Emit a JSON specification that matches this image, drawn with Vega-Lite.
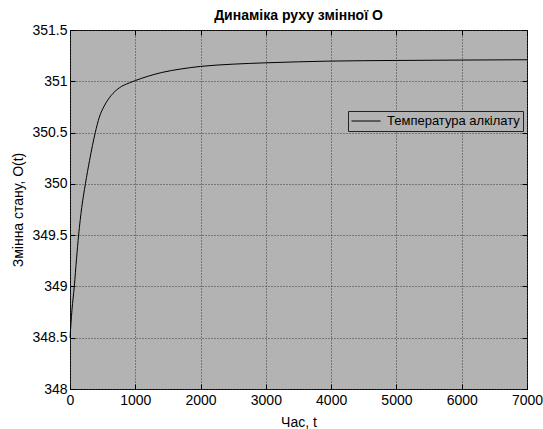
{
  "$schema": "https://vega.github.io/schema/vega-lite/v6.json",
  "width": 457,
  "height": 359,
  "autosize": {"type": "none"},
  "padding": {"left": 70, "top": 30, "right": 16, "bottom": 40},
  "background": "white",
  "config": {
    "font": "Liberation Sans",
    "view": {"fill": "#b3b3b3", "stroke": "black", "strokeWidth": 1}
  },
  "title": {
    "text": "Динаміка руху змінної O",
    "font": "Liberation Sans",
    "fontSize": 14,
    "fontWeight": "bold",
    "fontStyle": "normal",
    "color": "black",
    "anchor": "middle",
    "offset": 0
  },
  "data": {
    "values": [
      {"t": 0, "v": 348.5, "s": "Температура алкілату"},
      {"t": 30, "v": 348.77, "s": "Температура алкілату"},
      {"t": 66, "v": 349.0, "s": "Температура алкілату"},
      {"t": 100, "v": 349.27, "s": "Температура алкілату"},
      {"t": 132, "v": 349.5, "s": "Температура алкілату"},
      {"t": 180, "v": 349.77, "s": "Температура алкілату"},
      {"t": 236, "v": 350.0, "s": "Температура алкілату"},
      {"t": 300, "v": 350.23, "s": "Температура алкілату"},
      {"t": 387, "v": 350.5, "s": "Температура алкілату"},
      {"t": 449, "v": 350.65, "s": "Температура алкілату"},
      {"t": 525, "v": 350.76, "s": "Температура алкілату"},
      {"t": 628, "v": 350.86, "s": "Температура алкілату"},
      {"t": 755, "v": 350.936, "s": "Температура алкілату"},
      {"t": 908, "v": 350.984, "s": "Температура алкілату"},
      {"t": 1000, "v": 351.007, "s": "Температура алкілату"},
      {"t": 1200, "v": 351.05, "s": "Температура алкілату"},
      {"t": 1400, "v": 351.085, "s": "Температура алкілату"},
      {"t": 1700, "v": 351.12, "s": "Температура алкілату"},
      {"t": 2000, "v": 351.145, "s": "Температура алкілату"},
      {"t": 2500, "v": 351.167, "s": "Температура алкілату"},
      {"t": 3000, "v": 351.18, "s": "Температура алкілату"},
      {"t": 3500, "v": 351.19, "s": "Температура алкілату"},
      {"t": 4000, "v": 351.197, "s": "Температура алкілату"},
      {"t": 5000, "v": 351.203, "s": "Температура алкілату"},
      {"t": 6000, "v": 351.207, "s": "Температура алкілату"},
      {"t": 7000, "v": 351.21, "s": "Температура алкілату"}
    ]
  },
  "layer": [
    {
      "mark": {"type": "line", "strokeWidth": 1, "interpolate": "monotone"},
      "encoding": {
        "x": {
          "field": "t", "type": "quantitative",
          "scale": {"domain": [0, 7000], "nice": false, "zero": false},
          "axis": {
            "orient": "bottom",
            "values": [0, 1000, 2000, 3000, 4000, 5000, 6000, 7000],
            "format": "d",
            "title": "Час, t",
            "titleFont": "Liberation Sans", "titleFontSize": 14, "titleFontWeight": "normal", "titleColor": "black",
            "titlePadding": 8,
            "labelFont": "Liberation Sans", "labelFontSize": 14, "labelColor": "black",
            "labelPadding": 9,
            "labelFlush": false,
            "tickSize": -5, "tickColor": "black",
            "domain": false,
            "grid": true, "gridColor": "#3a3a3a", "gridDash": [1, 2], "gridWidth": 1, "gridOpacity": 1
          }
        },
        "y": {
          "field": "v", "type": "quantitative",
          "scale": {"domain": [348, 351.5], "nice": false, "zero": false},
          "axis": {
            "orient": "left",
            "values": [348, 348.5, 349, 349.5, 350, 350.5, 351, 351.5],
            "format": "~g",
            "title": "Змінна стану, O(t)",
            "titleFont": "Liberation Sans", "titleFontSize": 14, "titleFontWeight": "normal", "titleColor": "black",
            "titlePadding": 6,
            "labelFont": "Liberation Sans", "labelFontSize": 14, "labelColor": "black",
            "labelPadding": 8,
            "labelFlush": false,
            "tickSize": -5, "tickColor": "black",
            "domain": false,
            "grid": true, "gridColor": "#3a3a3a", "gridDash": [1, 2], "gridWidth": 1, "gridOpacity": 1
          }
        },
        "color": {
          "field": "s", "type": "nominal",
          "scale": {"range": ["black"]},
          "legend": {
            "title": null,
            "orient": "none",
            "legendX": 278,
            "legendY": 81,
            "symbolType": "stroke",
            "symbolSize": 841,
            "symbolStrokeWidth": 1,
            "clipHeight": 14,
            "labelFont": "Liberation Sans",
            "labelFontSize": 13,
            "labelColor": "black",
            "labelOffset": 6,
            "padding": 3,
            "strokeColor": "#222222",
            "fillColor": "#b3b3b3"
          }
        }
      }
    },
    {
      "mark": {"type": "line", "opacity": 0},
      "encoding": {
        "x": {
          "field": "t", "type": "quantitative",
          "axis": {
            "orient": "top",
            "values": [0, 1000, 2000, 3000, 4000, 5000, 6000, 7000],
            "labels": false, "title": null, "domain": false, "grid": false,
            "tickSize": -5, "tickColor": "black"
          }
        },
        "y": {
          "field": "v", "type": "quantitative",
          "axis": {
            "orient": "right",
            "values": [348, 348.5, 349, 349.5, 350, 350.5, 351, 351.5],
            "labels": false, "title": null, "domain": false, "grid": false,
            "tickSize": -5, "tickColor": "black"
          }
        }
      }
    }
  ],
  "resolve": {"axis": {"x": "independent", "y": "independent"}}
}
